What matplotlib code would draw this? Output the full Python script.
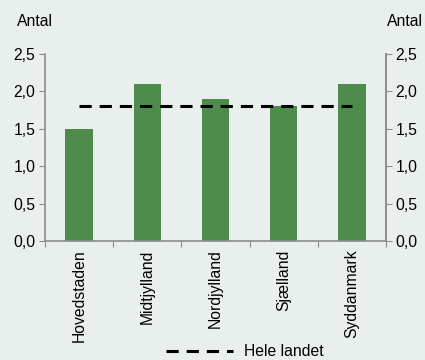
import matplotlib
matplotlib.use("Agg")
import matplotlib.pyplot as plt
import numpy as np

plt.rcParams['font.family'] = ['Liberation Sans', 'DejaVu Sans']

categories = ["Hovedstaden", "Midtjylland", "Nordjylland", "Sjælland", "Syddanmark"]
values = [1.5, 2.1, 1.9, 1.8, 2.1]
national = [1.8, 1.8, 1.8, 1.8, 1.8]
yticks = [0.0, 0.5, 1.0, 1.5, 2.0, 2.5]
yticklabels = ["0,0", "0,5", "1,0", "1,5", "2,0", "2,5"]

bg = "#E9EFED"
bar_color = "#4E8C4C"
spine_color = "#8C8C8C"
fs = 11.3

fig = plt.figure(figsize=(4.25, 3.6), dpi=100, facecolor=bg)
ax = fig.add_axes([45/425, 1-241/360, (386-45)/425, (241-54)/360], facecolor=bg)

x = np.arange(len(categories))
ax.bar(x, values, width=0.4, color=bar_color, zorder=2)
line, = ax.plot(x, national, color="black", linestyle=(0, (4, 2.6)), linewidth=2.2, zorder=3)

ax.set_xlim(-0.5, len(categories) - 0.5)
ax.set_ylim(0, 2.5)
ax.set_yticks(yticks)
ax.set_yticklabels(yticklabels, fontsize=fs)
ax.set_xticks(np.arange(-0.5, len(categories), 1.0))
ax.set_xticklabels([])
ax.set_xticks(x, minor=True)
ax.set_xticklabels(categories, minor=True, rotation=90, fontsize=fs)
ax.tick_params(axis='x', which='minor', length=0, pad=6)
ax.tick_params(axis='x', which='major', length=4, color=spine_color, direction='out')
ax.tick_params(axis='y', length=4, color=spine_color, direction='out', pad=3)

for s in ['top']:
    ax.spines[s].set_visible(False)
for s in ['left', 'bottom', 'right']:
    ax.spines[s].set_color(spine_color)
    ax.spines[s].set_linewidth(1.2)

ax2 = ax.twinx()
ax2.set_ylim(0, 2.5)
ax2.set_yticks(yticks)
ax2.set_yticklabels(yticklabels, fontsize=fs)
ax2.tick_params(axis='y', length=4, color=spine_color, direction='out', pad=3)
for s in ['top', 'left', 'bottom']:
    ax2.spines[s].set_visible(False)
ax2.spines['right'].set_color(spine_color)
ax2.spines['right'].set_linewidth(1.2)

fig.text(17/425, 1-22/360, "Antal", fontsize=fs, va='center', ha='left')
fig.text(387/425, 1-22/360, "Antal", fontsize=fs, va='center', ha='left')

fig.legend([line], ["Hele landet"], loc='center left', bbox_to_anchor=(166/425, 1-352/360),
           frameon=False, fontsize=fs, handlelength=4.3, borderpad=0, borderaxespad=0,
           handletextpad=0.7)

fig.savefig("out.png", dpi=100, facecolor=bg)
